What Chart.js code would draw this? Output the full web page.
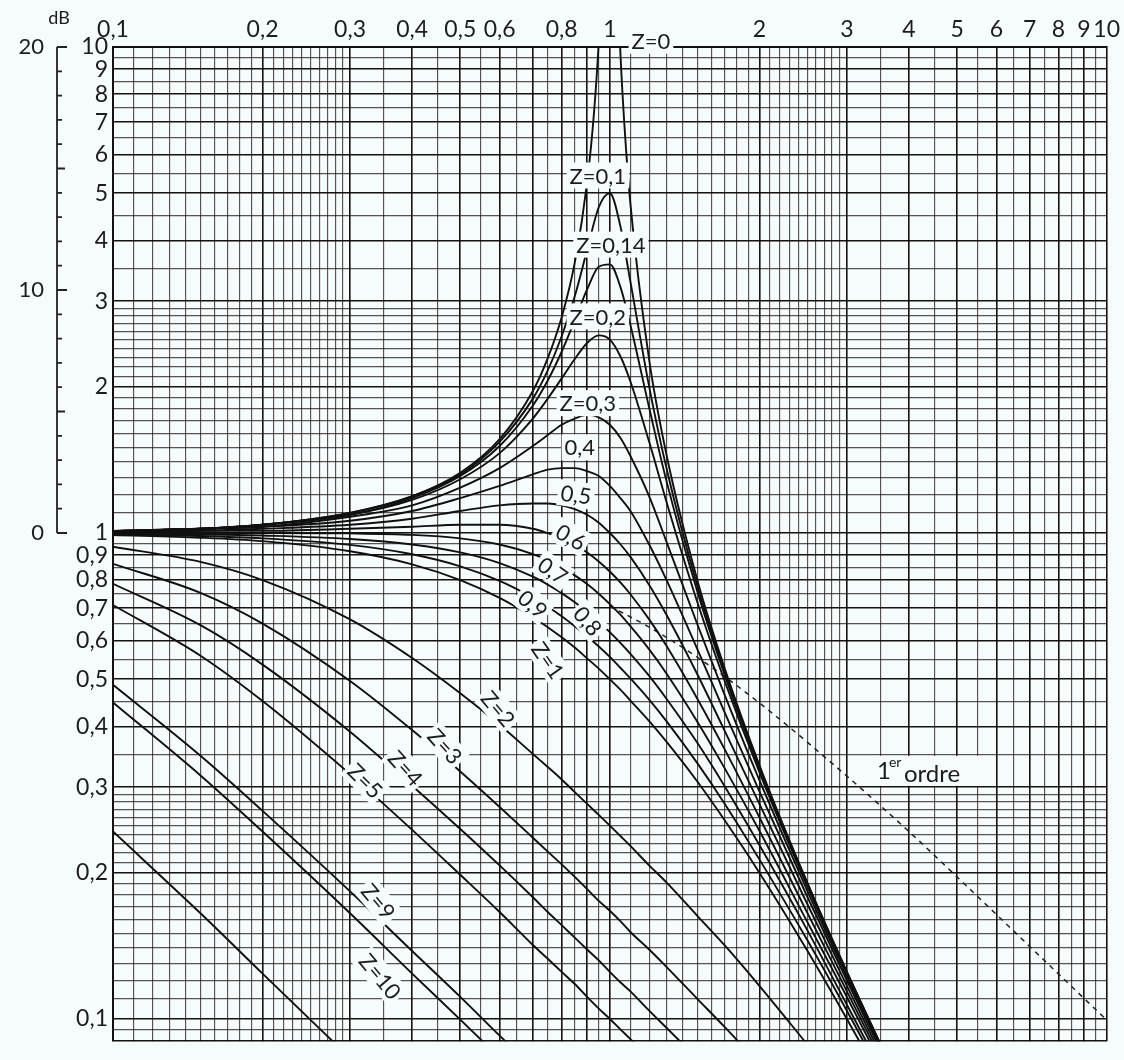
<!DOCTYPE html>
<html>
<head>
<meta charset="utf-8">
<script src="https://cdn.jsdelivr.net/npm/chart.js@4"></script>
<style>
  body { margin: 0; background: #f6fbfc; }
  #wrap { width: 1124px; height: 1060px; }
</style>
</head>
<body>
<div id="wrap"><canvas id="bode" width="1124" height="1060"></canvas></div>
<script>

// frequency ratio (u = w / wn) used by most curves
const ratio = [0.1, 0.15, 0.2, 0.3, 0.4, 0.5, 0.6, 0.7, 0.75, 0.8, 0.85, 0.9, 0.95, 1, 1.05, 1.1, 1.2, 1.3, 1.5, 1.7, 2, 2.5, 3, 4, 5, 7, 10];

// Z=0 needs points closer to the resonance
const ratioZ0 = [0.1, 0.15, 0.2, 0.3, 0.4, 0.5, 0.6, 0.7, 0.75, 0.8, 0.85, 0.9, 0.93, 0.95, 0.97, 1, 1.03, 1.05, 1.07, 1.1, 1.2, 1.3, 1.5, 1.7, 2, 2.5, 3, 4];
const z0 = [1.01, 1.02, 1.04, 1.10, 1.19, 1.33, 1.56, 1.96, 2.29, 2.78, 3.60, 5.26, 7.40, 10.26, 16.9, null, 16.4, 9.76, 6.90, 4.76, 2.27, 1.45, 0.800, 0.529, 0.333, 0.190, 0.125, 0.0667];

// amplitude ratio, one array per damping value
const z01 = [1.01, 1.02, 1.04, 1.10, 1.19, 1.32, 1.54, 1.89, 2.16, 2.54, 3.07, 3.82, 4.68, 5.00, 4.28, 3.29, 2.00, 1.36, 0.778, 0.521, 0.330, 0.190, 0.125, 0.0666];
const z014 = [1.01, 1.02, 1.04, 1.09, 1.18, 1.31, 1.51, 1.83, 2.06, 2.36, 2.74, 3.17, 3.53, 3.57, 3.21, 2.68, 1.81, 1.28, 0.758, 0.513, 0.328, 0.189, 0.124, 0.0665];
const z02 = [1.01, 1.02, 1.04, 1.09, 1.17, 1.29, 1.46, 1.72, 1.89, 2.08, 2.28, 2.46, 2.55, 2.50, 2.31, 2.05, 1.54, 1.16, 0.721, 0.498, 0.322, 0.187, 0.124, 0.0663];
const z03 = [1.01, 1.02, 1.03, 1.08, 1.14, 1.24, 1.36, 1.51, 1.59, 1.67, 1.72, 1.75, 1.73, 1.67, 1.57, 1.44, 1.19, 0.960, 0.649, 0.466, 0.310, 0.183, 0.122, 0.0658];
const z04 = [1.01, 1.02, 1.03, 1.06, 1.11, 1.18, 1.25, 1.32, 1.35, 1.36, 1.36, 1.34, 1.31, 1.25, 1.18, 1.11, 0.947, 0.801, 0.577, 0.429, 0.294, 0.178, 0.120, 0.0652];
const z05 = [1.005, 1.01, 1.02, 1.04, 1.07, 1.11, 1.14, 1.15, 1.15, 1.14, 1.12, 1.09, 1.05, 1.00, 0.948, 0.893, 0.782, 0.679, 0.512, 0.393, 0.277, 0.172, 0.117, 0.0644];
const z06 = [1.00, 1.01, 1.01, 1.02, 1.03, 1.04, 1.04, 1.02, 0.999, 0.975, 0.946, 0.912, 0.874, 0.833, 0.791, 0.748, 0.664, 0.586, 0.456, 0.360, 0.260, 0.165, 0.114, 0.0635];
const z07 = [1.00, 1.00, 1.00, 0.998, 0.991, 0.975, 0.947, 0.905, 0.879, 0.850, 0.818, 0.785, 0.750, 0.714, 0.679, 0.643, 0.576, 0.514, 0.409, 0.329, 0.244, 0.158, 0.111, 0.0625];
const z08 = [0.997, 0.994, 0.988, 0.972, 0.947, 0.912, 0.867, 0.813, 0.783, 0.752, 0.720, 0.688, 0.657, 0.625, 0.594, 0.564, 0.508, 0.456, 0.370, 0.302, 0.228, 0.152, 0.107, 0.0613];
const z09 = [0.994, 0.986, 0.975, 0.945, 0.904, 0.854, 0.797, 0.736, 0.705, 0.674, 0.643, 0.613, 0.584, 0.556, 0.528, 0.502, 0.454, 0.410, 0.336, 0.278, 0.213, 0.145, 0.104, 0.0601];
const z1 = [0.990, 0.978, 0.962, 0.917, 0.862, 0.800, 0.735, 0.671, 0.640, 0.610, 0.581, 0.552, 0.526, 0.500, 0.476, 0.452, 0.410, 0.372, 0.308, 0.257, 0.200, 0.138, 0.100, 0.0588];
const z2 = [0.937, 0.872, 0.800, 0.664, 0.553, 0.468, 0.403, 0.351, 0.330, 0.311, 0.293, 0.277, 0.263, 0.250, 0.238, 0.227, 0.207, 0.191, 0.163, 0.142, 0.117, 0.0885];
const z3 = [0.864, 0.753, 0.651, 0.496, 0.393, 0.323, 0.273, 0.236, 0.221, 0.208, 0.196, 0.185, 0.175, 0.167, 0.159, 0.151, 0.139, 0.128, 0.110, 0.0964, 0.0808];
const z4 = [0.786, 0.646, 0.536, 0.390, 0.302, 0.246, 0.207, 0.178, 0.166, 0.156, 0.147, 0.139, 0.132, 0.125, 0.119, 0.114, 0.104, 0.0959, 0.0829];
const z5 = [0.711, 0.559, 0.451, 0.319, 0.245, 0.198, 0.166, 0.142, 0.133, 0.125, 0.118, 0.111, 0.105, 0.100, 0.0952, 0.0909, 0.0833];
const z9 = [0.487, 0.348, 0.268, 0.183, 0.138, 0.111, 0.0924, 0.0793];
const z10 = [0.448, 0.317, 0.243, 0.165, 0.124, 0.0997, 0.0832];
const z20 = [0.243, 0.165, 0.124, 0.0831];

// 1er ordre asymptote (dashed)
const ratioFirst = [1, 1.2, 1.5, 2, 3, 4, 5, 7, 10];
const firstOrder = [0.707, 0.640, 0.555, 0.447, 0.316, 0.243, 0.196, 0.141, 0.0995];

// tick labels
const xTickLabels = [0.1, 0.2, 0.3, 0.4, 0.5, 0.6, 0.8, 1, 2, 3, 4, 5, 6, 7, 8, 9, 10];
const yTickLabels = [0.1, 0.2, 0.3, 0.4, 0.5, 0.6, 0.7, 0.8, 0.9, 1, 2, 3, 4, 5, 6, 7, 8, 9, 10];
const dbTickLabels = [0, 10, 20];

// curve labels: text, position in data units, rotation in degrees
const curveLabels = [
    { text: 'Z=0', x: 1.21, y: 10.3, rot: 0 },
    { text: 'Z=0,1', x: 0.946, y: 5.44, rot: 0 },
    { text: 'Z=0,14', x: 1.005, y: 3.92, rot: 0 },
    { text: 'Z=0,2', x: 0.946, y: 2.79, rot: 0 },
    { text: 'Z=0,3', x: 0.903, y: 1.85, rot: 0 },
    { text: '0,4', x: 0.870, y: 1.50, rot: 0 },
    { text: '0,5', x: 0.855, y: 1.20, rot: 8 },
    { text: '0,6', x: 0.835, y: 0.981, rot: 30 },
    { text: '0,7', x: 0.768, y: 0.837, rot: 35 },
    { text: '0,9', x: 0.700, y: 0.714, rot: 40 },
    { text: '0,8', x: 0.903, y: 0.659, rot: 50 },
    { text: 'Z=1', x: 0.751, y: 0.547, rot: 55 },
    { text: 'Z=2', x: 0.596, y: 0.435, rot: 50 },
    { text: 'Z=3', x: 0.466, y: 0.364, rot: 48 },
    { text: 'Z=4', x: 0.388, y: 0.328, rot: 48 },
    { text: 'Z=5', x: 0.322, y: 0.309, rot: 45 },
    { text: 'Z=9', x: 0.342, y: 0.1745, rot: 50 },
    { text: 'Z=10', x: 0.345, y: 0.1224, rot: 50 }
];
const firstOrderLabel = { x: 4.15, y: 0.324 };

const FONT = 'Lato, "DejaVu Sans", sans-serif';
const PAPER = '#f6fbfc';

document.addEventListener('DOMContentLoaded', () => {

    const pts = (xs, ys) => ys.map((y, i) => ({ x: xs[i], y }));

    // log paper rulings: 1..3 by 0.1, 3..10 by 0.5 in every decade
    function paperTicks(decades) {
        const out = [];
        decades.forEach(d => {
            for (let s = 10; s < 30; s++) out.push(+(d * s / 10).toFixed(5));
            for (let s = 30; s < 100; s += 5) out.push(+(d * s / 10).toFixed(5));
        });
        return out;
    }
    const xGrid = paperTicks([0.1, 1]).concat([10]);
    const yGrid = [0.09, 0.095].concat(paperTicks([0.1, 1]), [10]);

    const fmt = v => String(v).replace('.', ',');
    const pickLabel = (list, value) => {
        const hit = list.find(v => Math.abs(v - value) < 1e-6);
        return hit !== undefined ? fmt(hit) : '';
    };
    const isMajor = v => {
        const sig = v / Math.pow(10, Math.floor(Math.log10(v) + 1e-9));
        return Math.abs(sig - Math.round(sig)) < 1e-6;
    };
    const gridColor = c => isMajor(c.tick.value) ? 'rgba(10,5,5,0.95)' : 'rgba(25,18,18,0.72)';
    const gridWidth = c => isMajor(c.tick.value) ? 1.6 : 1.15;

    const curves = [z01, z014, z02, z03, z04, z05, z06, z07, z08, z09, z1, z2, z3, z4, z5, z9, z10, z20];
    const datasets = [{
        data: pts(ratioZ0, z0),
        borderColor: '#101010',
        borderWidth: 1.9,
        spanGaps: false
    }];
    curves.forEach(vals => datasets.push({
        data: pts(ratio, vals),
        borderColor: '#101010',
        borderWidth: 1.9
    }));
    datasets.push({
        data: pts(ratioFirst, firstOrder),
        borderColor: '#222',
        borderWidth: 1.5,
        borderDash: [5, 5]
    });

    // dB scale on the far left and the labels written on the curves
    const paperExtras = {
        id: 'paperExtras',
        afterDatasetsDraw(chart) {
            const ctx = chart.ctx;
            const xs = chart.scales.x;
            const ys = chart.scales.y;
            ctx.save();
            ctx.fillStyle = '#1c1c1c';
            ctx.textAlign = 'center';
            ctx.textBaseline = 'middle';
            ctx.font = '22px ' + FONT;
            curveLabels.forEach(l => {
                const px = xs.getPixelForValue(l.x);
                const py = ys.getPixelForValue(l.y);
                const w = ctx.measureText(l.text).width;
                ctx.save();
                ctx.translate(px, py);
                ctx.rotate(l.rot * Math.PI / 180);
                ctx.fillStyle = PAPER;
                ctx.fillRect(-w / 2 - 3, -13, w + 6, 26);
                ctx.fillStyle = '#1c1c1c';
                ctx.fillText(l.text, 0, 1);
                ctx.restore();
            });

            // "1er ordre"
            const fx = xs.getPixelForValue(firstOrderLabel.x);
            const fy = ys.getPixelForValue(firstOrderLabel.y);
            ctx.textAlign = 'left';
            ctx.fillStyle = PAPER;
            ctx.fillRect(fx - 44, fy - 15, 122, 30);
            ctx.fillStyle = '#1c1c1c';
            ctx.font = '24px ' + FONT;
            ctx.fillText('1', fx - 40, fy);
            ctx.font = '14px ' + FONT;
            ctx.fillText('er', fx - 28, fy - 8);
            ctx.font = '24px ' + FONT;
            ctx.fillText('ordre', fx - 13, fy + 3);

            // dB axis
            const axX = 57;
            const yTop = ys.getPixelForValue(10);
            const yBot = ys.getPixelForValue(1);
            ctx.strokeStyle = '#222';
            ctx.lineWidth = 1.8;
            ctx.beginPath();
            ctx.moveTo(axX, yTop);
            ctx.lineTo(axX, yBot);
            for (let d = 0; d <= 20; d++) {
                const py = ys.getPixelForValue(Math.pow(10, d / 20));
                const len = d % 10 === 0 ? 10 : (d % 5 === 0 ? 8 : 5);
                ctx.moveTo(axX, py);
                ctx.lineTo(axX + len, py);
            }
            ctx.stroke();
            ctx.font = '22px ' + FONT;
            ctx.textAlign = 'right';
            dbTickLabels.forEach(d => {
                ctx.fillText(String(d), 44, ys.getPixelForValue(Math.pow(10, d / 20)));
            });
            ctx.textAlign = 'center';
            ctx.font = '18px ' + FONT;
            ctx.fillText('dB', 59, 18);
            ctx.restore();
        }
    };

    const ctx = document.getElementById('bode').getContext('2d');
    new Chart(ctx, {
        type: 'line',
        data: { datasets },
        plugins: [paperExtras],
        options: {
            responsive: false,
            animation: false,
            layout: { padding: { left: 0, right: 15, top: 0, bottom: 7 } },
            elements: {
                point: { radius: 0 },
                line: { cubicInterpolationMode: 'monotone', fill: false }
            },
            plugins: {
                legend: { display: false },
                tooltip: { enabled: false }
            },
            scales: {
                x: {
                    type: 'logarithmic',
                    position: 'top',
                    min: 0.1,
                    max: 10,
                    afterBuildTicks: s => { s.ticks = xGrid.map(v => ({ value: v })); },
                    afterFit: s => { s.height = 47; },
                    grid: { color: gridColor, lineWidth: gridWidth, drawTicks: false },
                    border: { color: '#111', width: 2 },
                    ticks: {
                        autoSkip: false,
                        maxRotation: 0,
                        minRotation: 0,
                        padding: 4,
                        color: '#1c1c1c',
                        font: { family: FONT, size: 23 },
                        callback: v => pickLabel(xTickLabels, v)
                    }
                },
                y: {
                    type: 'logarithmic',
                    min: 0.09,
                    max: 10,
                    afterBuildTicks: s => { s.ticks = yGrid.map(v => ({ value: v })); },
                    afterFit: s => { s.width = 113; },
                    grid: { color: gridColor, lineWidth: gridWidth, drawTicks: false },
                    border: { color: '#111', width: 2 },
                    ticks: {
                        autoSkip: false,
                        padding: 5,
                        color: '#1c1c1c',
                        font: { family: FONT, size: 23 },
                        callback: v => pickLabel(yTickLabels, v)
                    }
                }
            }
        }
    });
})
</script>
</body>
</html>
